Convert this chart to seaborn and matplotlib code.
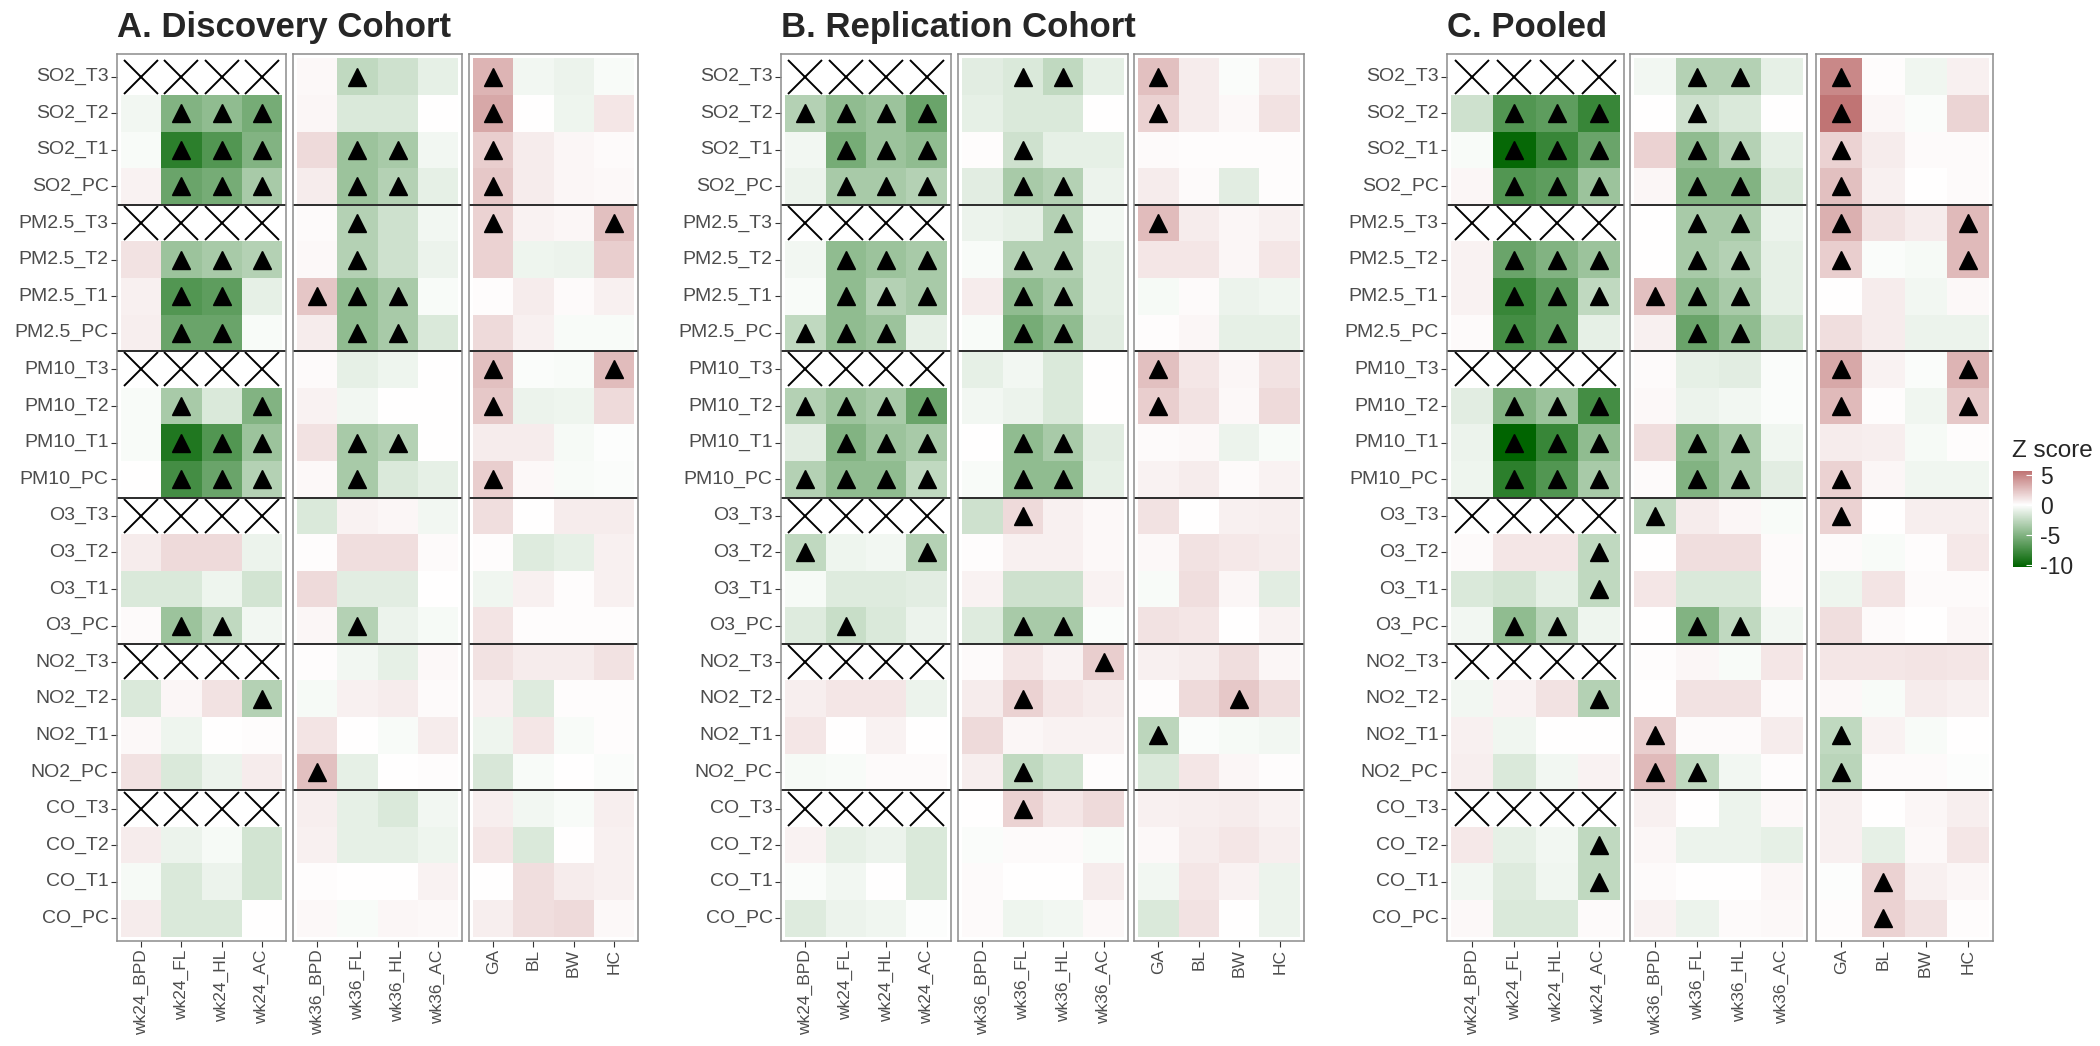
import numpy as np
import pandas as pd
import matplotlib
matplotlib.use("Agg")
import matplotlib.pyplot as plt
import seaborn as sns
from matplotlib.colors import LinearSegmentedColormap, Normalize

nan = np.nan

exposures = ["SO2_T3", "SO2_T2", "SO2_T1", "SO2_PC",
             "PM2.5_T3", "PM2.5_T2", "PM2.5_T1", "PM2.5_PC",
             "PM10_T3", "PM10_T2", "PM10_T1", "PM10_PC",
             "O3_T3", "O3_T2", "O3_T1", "O3_PC",
             "NO2_T3", "NO2_T2", "NO2_T1", "NO2_PC",
             "CO_T3", "CO_T2", "CO_T1", "CO_PC"]
wk24_cols = ["wk24_BPD", "wk24_FL", "wk24_HL", "wk24_AC"]
wk36_cols = ["wk36_BPD", "wk36_FL", "wk36_HL", "wk36_AC"]
birth_cols = ["GA", "BL", "BW", "HC"]

# z scores: columns = wk24 (4) | wk36 (4) | birth (4); nan = not estimated (T3 for wk24)
discovery_z = [
    [nan, nan, nan, nan, 0.3, -2.5, -2.0, -1.0, 3.0, -0.5, -0.8, -0.3],
    [-0.5, -5.0, -4.5, -5.5, 0.4, -1.5, -1.5, 0.0, 3.5, 0.0, -0.7, 1.0],
    [-0.3, -8.5, -7.0, -5.0, 1.5, -4.0, -3.5, -0.5, 2.0, 0.8, 0.4, 0.2],
    [0.5, -6.0, -5.5, -3.5, 0.8, -4.0, -3.0, -1.0, 2.2, 0.8, 0.4, 0.3],
    [nan, nan, nan, nan, 0.2, -3.0, -2.0, -0.5, 1.8, 0.5, 0.4, 2.5],
    [1.2, -4.0, -3.5, -3.0, 0.3, -3.0, -2.0, -0.8, 1.8, -0.7, -0.8, 2.0],
    [0.6, -7.0, -6.5, -1.0, 2.3, -4.5, -3.5, -0.3, 0.1, 0.8, 0.2, 0.6],
    [0.7, -6.0, -6.0, -0.3, 0.8, -4.5, -3.5, -1.5, 1.5, 0.6, -0.3, -0.3],
    [nan, nan, nan, nan, 0.2, -1.0, -0.7, 0.0, 2.5, -0.2, -0.3, 2.7],
    [-0.3, -3.5, -1.5, -5.0, 0.5, -0.5, 0.0, 0.0, 2.2, -0.8, -0.7, 1.5],
    [-0.3, -9.0, -7.0, -4.0, 1.2, -3.5, -3.0, 0.0, 0.8, 0.8, -0.4, -0.1],
    [0.0, -7.5, -6.0, -3.0, 0.3, -3.5, -1.5, -1.0, 2.0, 0.3, -0.3, -0.2],
    [nan, nan, nan, nan, -1.5, 0.5, 0.4, -0.5, 1.3, 0.0, 0.8, 0.8],
    [0.8, 1.5, 1.5, -0.8, 0.1, 1.3, 1.3, 0.2, 0.1, -1.3, -1.0, 0.6],
    [-1.5, -1.5, -0.7, -1.8, 1.5, -1.2, -1.2, 0.0, -0.6, 0.6, 0.1, 0.6],
    [0.2, -4.0, -2.5, -0.5, 0.4, -3.0, -0.8, -0.4, 1.1, 0.1, 0.1, 0.1],
    [nan, nan, nan, nan, 0.1, -0.5, -1.0, 0.3, 1.2, 0.8, 0.8, 1.2],
    [-1.5, 0.4, 1.2, -3.0, -0.4, 0.6, 0.8, 0.2, 0.6, -1.3, 0.1, 0.1],
    [0.3, -0.7, 0.0, 0.1, 1.1, 0.0, -0.3, 0.8, -0.7, 1.0, -0.3, 0.1],
    [1.2, -1.5, -0.8, 0.8, 2.5, -1.0, 0.0, 0.1, -1.6, -0.3, 0.0, -0.2],
    [nan, nan, nan, nan, 0.7, -1.0, -1.5, -0.5, 0.7, -0.5, -0.3, 0.7],
    [0.8, -0.8, -0.4, -1.8, 0.6, -1.0, -1.0, -0.7, 1.0, -1.5, 0.0, 0.6],
    [-0.4, -1.5, -0.8, -1.8, 0.1, 0.0, 0.0, 0.5, 0.0, 1.3, 0.8, 0.6],
    [0.8, -1.5, -1.5, 0.0, 0.3, -0.3, 0.4, 0.3, 0.7, 1.3, 1.5, 0.3],
]
discovery_sig = [
    "0000 0100 1000", "0111 0000 1000", "0111 0110 1000", "0111 0110 1000",
    "0000 0100 1001", "0111 0100 0000", "0110 1110 0000", "0110 0110 0000",
    "0000 0000 1001", "0101 0000 1000", "0111 0110 0000", "0111 0100 1000",
    "0000 0000 0000", "0000 0000 0000", "0000 0000 0000", "0110 0100 0000",
    "0000 0000 0000", "0001 0000 0000", "0000 0000 0000", "0000 1000 0000",
    "0000 0000 0000", "0000 0000 0000", "0000 0000 0000", "0000 0000 0000",
]

replication_z = [
    [nan, nan, nan, nan, -1.2, -1.5, -2.5, -1.0, 2.5, 0.8, -0.2, 0.8],
    [-3.0, -4.5, -4.0, -6.0, -1.0, -1.5, -1.5, 0.0, 1.8, 0.8, 0.3, 1.2],
    [-0.5, -5.5, -4.0, -4.5, 0.1, -2.0, -1.0, -1.0, 0.2, 0.1, 0.1, 0.1],
    [-0.8, -3.5, -3.5, -3.0, -1.2, -3.5, -3.0, -0.8, 0.8, 0.2, -1.2, 0.1],
    [nan, nan, nan, nan, -0.8, -1.0, -3.0, -0.5, 2.7, 0.8, 0.4, 0.6],
    [-0.5, -4.5, -4.0, -3.5, -0.3, -3.0, -3.0, -1.0, 1.0, 1.0, 0.4, 1.0],
    [-0.3, -4.5, -3.0, -3.5, 0.8, -4.5, -3.5, -1.0, -0.4, 0.2, -0.8, -0.6],
    [-2.5, -4.5, -4.0, -1.0, -0.3, -5.5, -4.5, -1.2, 0.1, 0.4, -1.0, -1.0],
    [nan, nan, nan, nan, -1.0, -0.5, -1.5, 0.0, 2.5, 1.0, 0.4, 1.2],
    [-3.0, -4.0, -3.5, -6.0, -0.5, -0.8, -1.5, 0.0, 2.0, 1.2, 0.3, 1.5],
    [-1.2, -5.0, -4.0, -3.5, 0.0, -4.5, -3.5, -1.2, 0.2, 0.3, -0.8, -0.3],
    [-3.0, -4.5, -4.5, -2.5, -0.3, -4.5, -4.5, -1.0, 0.5, 0.8, 0.2, 0.5],
    [nan, nan, nan, nan, -2.0, 1.5, 0.6, 0.3, 1.2, 0.0, 0.6, 0.7],
    [-2.5, -0.7, -0.5, -3.0, 0.1, 0.6, 0.6, 0.3, 0.3, 1.2, 0.9, 0.8],
    [-0.4, -1.3, -1.3, -1.2, 0.5, -2.0, -2.0, 0.5, -0.3, 1.3, 0.4, -1.2],
    [-1.3, -2.2, -1.5, -0.8, -1.3, -3.5, -3.5, -0.2, 1.2, 1.0, 0.0, 0.5],
    [nan, nan, nan, nan, 0.2, 1.0, 0.5, 2.0, 0.6, 0.8, 1.3, 0.4],
    [0.7, 1.0, 1.0, -0.8, 0.8, 1.8, 1.0, 0.8, 0.1, 1.5, 2.2, 1.3],
    [1.0, 0.0, 0.5, 0.0, 1.5, 0.4, 0.5, 0.5, -2.7, -0.2, -0.4, -0.5],
    [-0.4, -0.3, 0.2, 0.2, 0.7, -2.5, -1.8, 0.1, -1.5, 1.0, 0.4, 0.1],
    [nan, nan, nan, nan, 0.0, 1.8, 1.0, 1.5, 0.6, 0.7, 0.8, 0.5],
    [0.5, -1.0, -0.8, -1.5, -0.2, 0.2, 0.2, -0.3, 0.3, 0.8, 1.0, 0.7],
    [-0.2, -0.5, 0.0, -1.5, 0.2, 0.0, 0.0, 0.8, -0.5, 1.0, 0.5, -0.8],
    [-1.3, -0.8, -0.6, -0.1, 0.2, -0.7, -0.5, 0.3, -1.5, 1.2, 0.0, -0.8],
]
replication_sig = [
    "0000 0110 1000", "1111 0000 1000", "0111 0100 0000", "0111 0110 0000",
    "0000 0010 1000", "0111 0110 0000", "0111 0110 0000", "1110 0110 0000",
    "0000 0000 1000", "1111 0000 1000", "0111 0110 0000", "1111 0110 0000",
    "0000 0100 0000", "1001 0000 0000", "0000 0000 0000", "0100 0110 0000",
    "0000 0001 0000", "0000 0100 0010", "0000 0000 1000", "0000 0100 0000",
    "0000 0100 0000", "0000 0000 0000", "0000 0000 0000", "0000 0000 0000",
]

pooled_z = [
    [nan, nan, nan, nan, -0.5, -3.0, -3.0, -1.0, 4.8, 0.1, -0.6, 0.6],
    [-2.0, -7.0, -6.5, -8.0, 0.0, -2.0, -1.5, 0.0, 5.6, 0.4, -0.2, 1.7],
    [-0.3, -10.0, -8.0, -6.0, 1.8, -4.5, -3.0, -1.0, 1.8, 0.8, 0.2, 0.2],
    [0.4, -7.0, -6.5, -4.0, 0.4, -5.0, -5.0, -1.5, 2.5, 0.6, 0.0, 0.2],
    [nan, nan, nan, nan, 0.0, -3.5, -3.5, -0.8, 3.2, 1.2, 0.8, 2.8],
    [0.5, -6.0, -5.0, -4.0, 0.0, -3.5, -3.0, -1.0, 2.0, -0.2, -0.4, 2.8],
    [0.5, -8.0, -6.5, -2.5, 2.5, -4.5, -3.5, -1.0, 0.0, 0.8, -0.5, 0.3],
    [0.2, -7.5, -6.5, -1.0, 0.6, -6.0, -4.5, -1.8, 1.3, 0.8, -0.8, -0.8],
    [nan, nan, nan, nan, 0.2, -1.0, -1.2, -0.2, 3.5, 0.5, -0.2, 3.0],
    [-1.2, -5.0, -4.0, -7.5, 0.3, -0.8, -0.5, -0.2, 2.8, 0.1, -0.6, 2.2],
    [-0.8, -10.3, -8.0, -4.5, 1.3, -4.5, -3.5, -0.6, 0.8, 0.7, -0.4, 0.1],
    [-0.7, -8.5, -7.0, -3.5, 0.2, -5.0, -3.5, -1.2, 1.8, 0.4, -0.6, -0.6],
    [nan, nan, nan, nan, -2.5, 0.8, 0.4, -0.3, 1.8, 0.0, 0.7, 0.7],
    [0.2, 1.0, 1.0, -2.5, 0.0, 1.3, 1.3, 0.2, 0.2, -0.3, 0.1, 0.9],
    [-1.5, -1.8, -1.0, -2.5, 1.0, -1.5, -1.5, 0.2, -0.7, 1.1, 0.2, 0.2],
    [-0.5, -4.5, -2.8, -0.7, 0.0, -5.0, -2.5, -0.5, 1.3, 0.2, 0.0, 0.4],
    [nan, nan, nan, nan, 0.1, 0.4, -0.3, 1.0, 1.0, 1.0, 1.1, 1.0],
    [-0.5, 0.5, 1.2, -3.0, 0.0, 1.2, 1.2, 0.2, 0.3, -0.3, 0.8, 0.6],
    [0.6, -0.6, 0.0, 0.0, 2.0, 0.2, 0.2, 0.8, -2.5, 0.5, -0.3, 0.0],
    [0.7, -1.5, -0.5, 0.5, 2.8, -2.5, -0.5, 0.1, -2.8, 0.2, 0.2, -0.1],
    [nan, nan, nan, nan, 0.6, 0.0, -0.8, 0.3, 0.6, 0.0, 0.4, 0.7],
    [0.9, -1.0, -0.5, -2.5, 0.4, -0.8, -0.8, -1.0, 0.6, -1.0, 0.3, 1.0],
    [-0.5, -1.3, -0.6, -2.5, 0.2, 0.0, 0.0, 0.4, -0.1, 1.8, 0.6, 0.4],
    [0.3, -1.5, -1.5, 0.2, 0.5, -0.8, 0.2, 0.3, 0.1, 1.8, 1.2, 0.1],
]
pooled_sig = [
    "0000 0110 1000", "0111 0100 1000", "0111 0110 1000", "0111 0110 1000",
    "0000 0110 1001", "0111 0110 1001", "0111 1110 0000", "0110 0110 0000",
    "0000 0000 1001", "0111 0000 1001", "0111 0110 0000", "0111 0110 1000",
    "0000 1000 1000", "0001 0000 0000", "0001 0000 0000", "0110 0110 0000",
    "0000 0000 0000", "0001 0000 0000", "0000 1000 1000", "0000 1100 1000",
    "0000 0000 0000", "0001 0000 0000", "0001 0000 0100", "0000 0000 0100",
]

# ---- styling ----
sns.set_style("white")
plt.rcParams["font.family"] = ["Liberation Sans", "DejaVu Sans"]

all_z = np.array(discovery_z + replication_z + pooled_z, dtype=float)
zmin, zmax = np.nanmin(all_z), np.nanmax(all_z)
lim = max(abs(zmin), abs(zmax))
cmap = LinearSegmentedColormap.from_list("zscore", ["darkgreen", "white", "darkred"])
norm = Normalize(-lim, lim)

W, H = 2100, 1046
fig = plt.figure(figsize=(W / 100, H / 100), dpi=100)

top_px, bot_px = 54, 941
groups = [wk24_cols, wk36_cols, birth_cols]
panels = [
    ("A. Discovery Cohort", discovery_z, discovery_sig, [117, 293, 469], 169),
    ("B. Replication Cohort", replication_z, replication_sig, [781, 958, 1134], 170),
    ("C. Pooled", pooled_z, pooled_sig, [1447, 1630, 1816], 177),
]
text_grey = "#4d4d4d"

for title, z, sig, xs, w in panels:
    zdf = pd.DataFrame(z, index=exposures, columns=wk24_cols + wk36_cols + birth_cols)
    sig_arr = np.array([[int(ch) for ch in s.replace(" ", "")] for s in sig])
    for g, cols in enumerate(groups):
        ax = fig.add_axes([xs[g] / W, 1 - bot_px / H, w / W, (bot_px - top_px) / H])
        sub = zdf[cols]
        sns.heatmap(sub, ax=ax, cmap=cmap, norm=norm, cbar=False,
                    xticklabels=cols, yticklabels=exposures if g == 0 else False)
        vals = sub.to_numpy()
        for r in range(vals.shape[0]):
            for c in range(vals.shape[1]):
                if np.isnan(vals[r, c]):
                    ax.plot(c + 0.5, r + 0.5, marker="x", ms=24, mew=1.4, color="black")
                elif sig_arr[r, 4 * g + c]:
                    ax.plot(c + 0.5, r + 0.5, marker="^", ms=13, color="black")
        for yb in (4, 8, 12, 16, 20):
            ax.axhline(yb, color="#2b2b2b", lw=1.4)
        ax.set_xlim(-0.1, len(cols) + 0.1)
        ax.set_ylim(len(exposures) + 0.12, -0.12)
        for sp in ax.spines.values():
            sp.set_visible(True)
            sp.set_color("#8c8c8c")
            sp.set_linewidth(1.1)
        ax.tick_params(axis="x", labelrotation=90, labelsize=12.5, labelcolor=text_grey,
                       length=4, color="#333333", bottom=True, pad=2)
        ax.tick_params(axis="y", labelrotation=0, labelsize=14, labelcolor=text_grey,
                       length=4, color="#333333", left=(g == 0), pad=2)
        ax.set_xlabel("")
        ax.set_ylabel("")
    fig.text(xs[0] / W, 1 - 37 / H, title, fontsize=25, fontweight="bold",
             ha="left", va="baseline")

# ---- colour bar legend ----
px_per_unit = 6.0
zero_px = 505
cb_top = zero_px - zmax * px_per_unit
cb_bot = zero_px - zmin * px_per_unit
cax = fig.add_axes([2013 / W, 1 - cb_bot / H, 19 / W, (cb_bot - cb_top) / H])
grad = np.linspace(zmin, zmax, 256)[:, None]
cax.imshow(grad, cmap=cmap, norm=norm, aspect="auto", origin="lower",
           extent=[0, 1, zmin, zmax])
cax.set_ylim(zmin, zmax)
cax.set_xticks([])
cax.yaxis.tick_right()
cax.set_yticks([5, 0, -5, -10])
cax.set_yticklabels(["5", "0", "-5", "-10"])
cax.tick_params(axis="y", labelsize=16.5, length=4, direction="in", color="white", pad=6)
for sp in cax.spines.values():
    sp.set_visible(False)
fig.text(2012 / W, 1 - (cb_top - 20) / H, "Z score", fontsize=17.5, ha="left", va="center")

fig.savefig("out.png", dpi=100)
